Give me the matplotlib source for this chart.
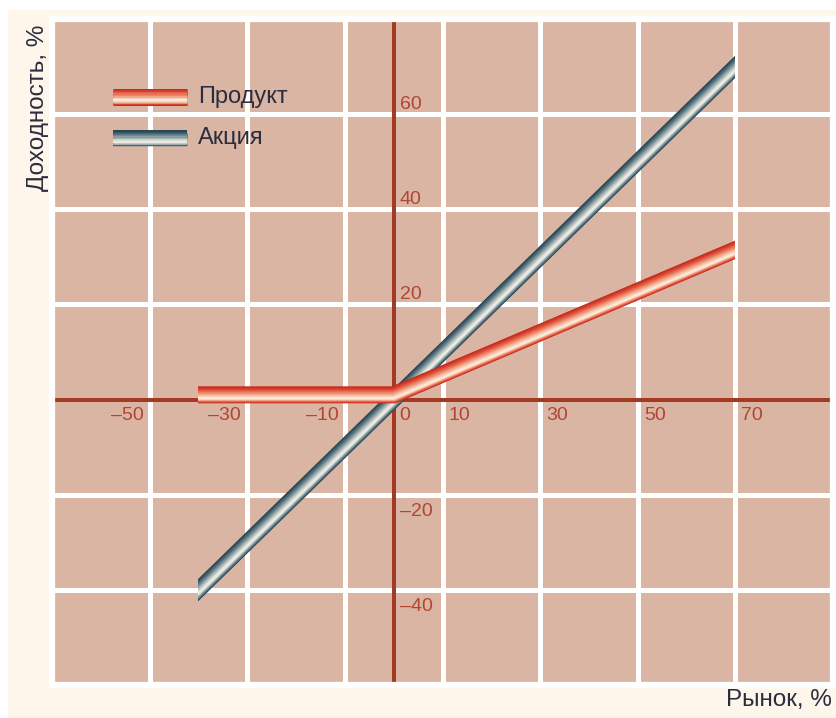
import numpy as np
import matplotlib.pyplot as plt
from matplotlib.colors import to_rgb
from matplotlib.patches import Rectangle
from matplotlib.transforms import offset_copy

plt.rcParams['font.family'] = ['Liberation Sans', 'DejaVu Sans']

# market return, %  ->  product / stock return, %
product_x = [-40, 0, 70]
product_y = [1, 1, 31.5]
stock_x = [-40, 70]
stock_y = [-40, 70]

x_labels = [-50, -30, -10, 0, 10, 30, 50, 70]
y_labels = [-40, -20, 20, 40, 60]
grid_x = [-50, -30, -10, 10, 30, 50, 70]
grid_y = [-40, -20, 20, 40, 60]

pink = '#dbb5a3'
cream = '#fef6eb'
axis_red = '#a33a24'
label_red = '#b04634'
ink = '#2b2c3e'

# colour stops for the "tube" shading, outer edge -> highlight
product_stops = ['#c72a1c', '#dc4a34', '#ea7e62', '#f5b79c', '#fde9d6']
stock_stops = ['#264654', '#4a6773', '#7d939a', '#b8c2c0', '#ecece4']

fig = plt.figure(figsize=(8.36, 7.18), dpi=100, facecolor='white')
fig.patches.append(Rectangle((8 / 836, 0), 1, 1 - 10 / 718, transform=fig.transFigure,
                             facecolor=cream, edgecolor='none', zorder=-10))

ax = fig.add_axes([52 / 836, 1 - 685 / 718, 781 / 836, 666 / 718])
ax.set_facecolor(pink)
ax.set_xlim(-70, 90)
ax.set_ylim(-60, 80)
for s in ax.spines.values():
    s.set_color('white')
    s.set_linewidth(4.5)
ax.set_xticks([])
ax.set_yticks([])

px = 72 / fig.dpi
for g in grid_x:
    ax.axvline(g, color='white', lw=5 * px, zorder=1)
for g in grid_y:
    ax.axhline(g, color='white', lw=5 * px, zorder=1)
ax.axhline(0, color=axis_red, lw=4 * px, zorder=2)
ax.axvline(0, color=axis_red, lw=4 * px, zorder=2)


def shade(stops, n):
    rgb = np.array([to_rgb(c) for c in stops])
    pos = np.linspace(0, 1, len(stops))
    t = np.linspace(0, 1, n)
    return [tuple(np.interp(ti, pos, rgb[:, k]) for k in range(3)) for ti in t]


def tube(xs, ys, stops, width, z, trans=None, clip=True, n=10):
    trans = trans or ax.transData
    if clip:
        box = Rectangle((min(xs), -1000), max(xs) - min(xs), 2000, transform=ax.transData)
    widths = np.linspace(width, 2, n)
    shifts = np.linspace(0, -3.5, n)
    for w, dy, c in zip(widths, shifts, shade(stops, n)):
        ln, = ax.plot(xs, ys, color=c, lw=w * px, zorder=z,
                      transform=offset_copy(trans, fig=fig, x=0, y=dy, units='dots'),
                      solid_capstyle='projecting' if clip else 'butt',
                      solid_joinstyle='miter')
        if clip:
            ln.set_clip_path(box)


tube(stock_x, stock_y, stock_stops, 16, 4)
tube(product_x, product_y, product_stops, 17, 5)

# legend swatches
tube([0.078, 0.173], [0.883, 0.883], product_stops, 17, 6, trans=ax.transAxes, clip=False)
tube([0.078, 0.173], [0.821, 0.821], stock_stops, 16, 6, trans=ax.transAxes, clip=False)
ax.text(0.187, 0.883, 'Продукт', transform=ax.transAxes, fontsize=17,
        color=ink, va='center', ha='left')
ax.text(0.187, 0.821, 'Акция', transform=ax.transAxes, fontsize=17,
        color=ink, va='center', ha='left')

# axis numbers sit beside the grid lines, away from the origin
for v in x_labels:
    if v < 0:
        t = offset_copy(ax.transData, fig=fig, x=-6, y=-7, units='dots')
        ax.text(v, 0, f'–{abs(v)}', transform=t, ha='right', va='top',
                fontsize=14, color=label_red, zorder=3)
    else:
        t = offset_copy(ax.transData, fig=fig, x=6, y=-7, units='dots')
        ax.text(v, 0, f'{v}', transform=t, ha='left', va='top',
                fontsize=14, color=label_red, zorder=3)
for v in y_labels:
    if v > 0:
        t = offset_copy(ax.transData, fig=fig, x=6, y=5, units='dots')
        ax.text(0, v, f'{v}', transform=t, ha='left', va='baseline',
                fontsize=14, color=label_red, zorder=3)
    else:
        t = offset_copy(ax.transData, fig=fig, x=6, y=-8, units='dots')
        ax.text(0, v, f'–{abs(v)}', transform=t, ha='left', va='top',
                fontsize=14, color=label_red, zorder=3)

fig.text(38 / 836, 1 - 25 / 718, 'Доходность, %', rotation=90, ha='center', va='top',
         fontsize=17.5, color=ink)
fig.text(832 / 836, 1 - 700 / 718, 'Рынок, %', ha='right', va='center',
         fontsize=17.5, color=ink)

fig.savefig('out.png', dpi=100, facecolor='white')
